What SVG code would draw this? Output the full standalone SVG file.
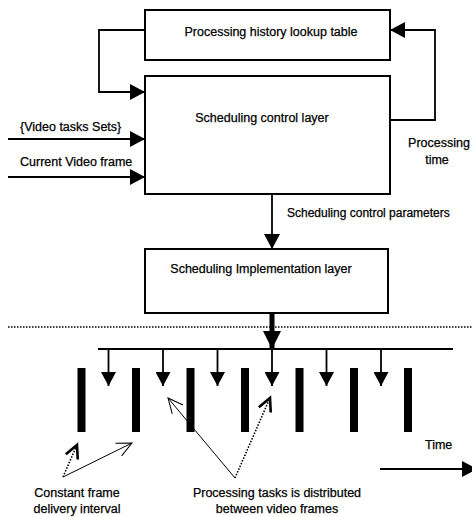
<svg xmlns="http://www.w3.org/2000/svg" width="472" height="517" viewBox="0 0 472 517">
<style>
  .box { fill: #fff; stroke: #000; stroke-width: 2; }
  .lbl { font-family: "Liberation Sans", Arial, sans-serif; font-size: 12.5px; fill: #000; stroke: #000; stroke-width: 0.25; }
  .mid { text-anchor: middle; }
  .ln { fill: none; stroke: #000; stroke-width: 1.8; }
  .thin { fill: none; stroke: #000; stroke-width: 1; }
  .dot { fill: none; stroke: #000; stroke-width: 1.6; stroke-dasharray: 1.5 1.5; }
  .bar { fill: #000; }
</style>
<defs>
  <marker id="tri" markerUnits="userSpaceOnUse" markerWidth="15" markerHeight="16" refX="15" refY="8" orient="auto">
    <path d="M0,0 L15,8 L0,16 z" fill="#000"/>
  </marker>
  <marker id="triS" markerUnits="userSpaceOnUse" markerWidth="14" markerHeight="15" refX="14" refY="7.5" orient="auto">
    <path d="M0,0 L14,7.5 L0,15 z" fill="#000"/>
  </marker>
  <marker id="triB" markerUnits="userSpaceOnUse" markerWidth="18" markerHeight="18" refX="18" refY="9" orient="auto">
    <path d="M0,0 L18,9 L0,18 z" fill="#000"/>
  </marker>
  <marker id="open" markerUnits="userSpaceOnUse" markerWidth="20" markerHeight="20" refX="16" refY="8" orient="auto">
    <path d="M1,1 L16,8 L1,15" fill="none" stroke="#000" stroke-width="1"/>
  </marker>
  <marker id="openT" markerUnits="userSpaceOnUse" markerWidth="20" markerHeight="20" refX="15" refY="8" orient="auto">
    <path d="M2,1.5 L15,8 L2,14.5" fill="none" stroke="#000" stroke-width="2.6"/>
  </marker>
</defs>

<g id="history-table">
  <rect class="box" x="145" y="10" width="245" height="50"/>
  <text class="lbl mid" x="271" y="36">Processing history lookup table</text>
</g>
<g id="control-layer">
  <rect class="box" x="145" y="76" width="245" height="118"/>
  <text class="lbl mid" x="262" y="122">Scheduling control layer</text>
</g>
<g id="implementation-layer">
  <rect class="box" x="145" y="249" width="243" height="64"/>
  <text class="lbl mid" x="261" y="273">Scheduling Implementation layer</text>
</g>

<g id="frames">
  <rect class="bar" x="77.5" y="368" width="8" height="64"/>
  <rect class="bar" x="132" y="368" width="8" height="64"/>
  <rect class="bar" x="186.5" y="368" width="8" height="64"/>
  <rect class="bar" x="241" y="368" width="8" height="64"/>
  <rect class="bar" x="295.5" y="368" width="8" height="64"/>
  <rect class="bar" x="350" y="368" width="8" height="64"/>
  <rect class="bar" x="404" y="368" width="8" height="64"/>
</g>

<g id="connectors">
  <polyline class="ln" points="145,30 99,30 99,92 145,92" marker-end="url(#tri)"/>
  <polyline class="ln" points="390,120 435,120 435,30 390,30" marker-end="url(#tri)"/>
  <line class="ln" x1="8" y1="139" x2="145" y2="139" marker-end="url(#tri)"/>
  <line class="ln" x1="8" y1="177" x2="145" y2="177" marker-end="url(#tri)"/>
  <line class="ln" x1="272" y1="194" x2="272" y2="249" marker-end="url(#tri)"/>
  <line x1="272" y1="313" x2="272" y2="349" stroke="#000" stroke-width="5" marker-end="url(#triB)"/>
  <line class="dot" x1="8" y1="327" x2="472" y2="327"/>
  <line class="ln" x1="98" y1="349" x2="453" y2="349"/>
  <line class="ln" x1="108.5" y1="349" x2="108.5" y2="386" marker-end="url(#triS)"/>
  <line class="ln" x1="163" y1="349" x2="163" y2="386" marker-end="url(#triS)"/>
  <line class="ln" x1="217.5" y1="349" x2="217.5" y2="386" marker-end="url(#triS)"/>
  <line class="ln" x1="272" y1="349" x2="272" y2="386" marker-end="url(#triS)"/>
  <line class="ln" x1="326.5" y1="349" x2="326.5" y2="386" marker-end="url(#triS)"/>
  <line class="ln" x1="381" y1="349" x2="381" y2="386" marker-end="url(#triS)"/>
  <line class="dot" x1="63" y1="477" x2="77" y2="445" marker-end="url(#openT)"/>
  <line class="thin" x1="63" y1="477" x2="132" y2="443" marker-end="url(#open)"/>
  <line class="thin" x1="235" y1="478" x2="168" y2="398" marker-end="url(#open)"/>
  <line class="dot" x1="235" y1="478" x2="270" y2="398" marker-end="url(#openT)"/>
  <line class="ln" x1="380" y1="469" x2="477" y2="469" stroke-width="2" marker-end="url(#tri)"/>
</g>

<g id="labels">
  <text class="lbl" x="20" y="131">{Video tasks Sets}</text>
  <text class="lbl" x="20" y="166">Current Video frame</text>
  <text class="lbl mid" x="439" y="147">Processing</text>
  <text class="lbl mid" x="437" y="164">time</text>
  <text class="lbl" x="287" y="217" style="font-size:12px">Scheduling control parameters</text>
  <text class="lbl" x="425" y="449">Time</text>
  <text class="lbl mid" x="77" y="497">Constant frame</text>
  <text class="lbl mid" x="77" y="513">delivery interval</text>
  <text class="lbl mid" x="277" y="497">Processing tasks is distributed</text>
  <text class="lbl mid" x="277" y="513">between video frames</text>
</g>
</svg>
